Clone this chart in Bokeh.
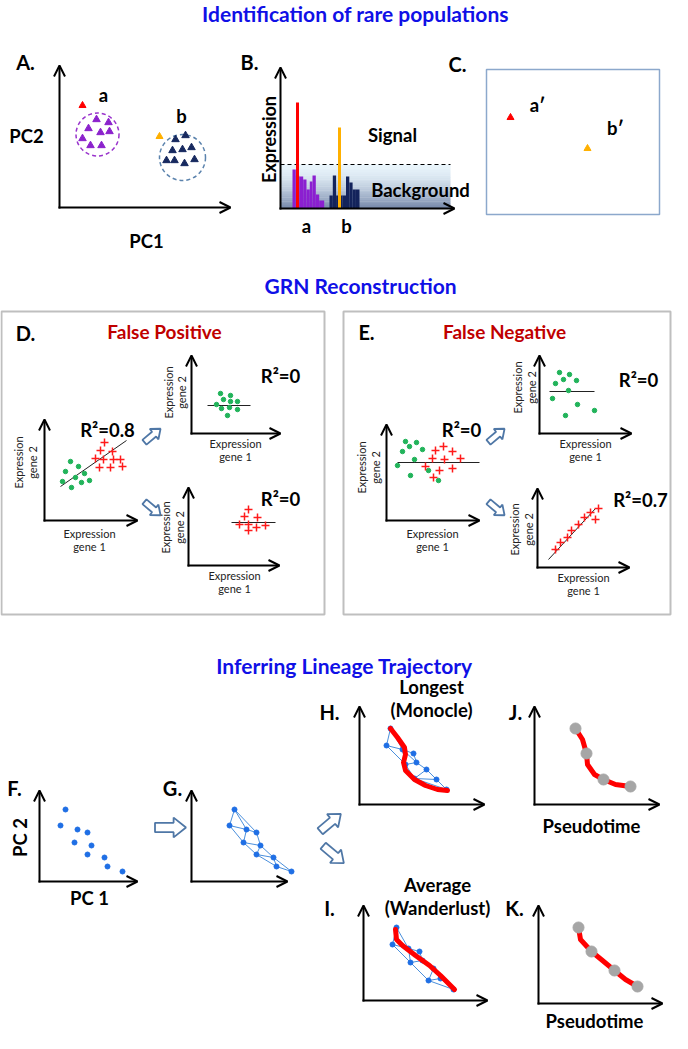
import math
from bokeh.plotting import figure
from bokeh.models import Range1d, Arrow, OpenHead
from bokeh.core.properties import value
from bokeh.embed import file_html
from bokeh.resources import INLINE

FONT = "Lato"

# ---------------- data (image pixel coordinates) ----------------
# Panel A: populations in PC space
a_x = [104, 116, 96, 108, 117, 90, 98, 109]
a_y = [127, 130, 136, 140, 139, 146, 153, 153]
b_x = [183, 193, 180, 190, 199, 174, 182, 192, 202]
b_y = [147, 143, 158, 157, 155, 168, 168, 171, 167]
rare_x = [90, 167]
rare_y = [113, 144]
rare_colors = ["#ff0000", "#ffb000"]
clu_x = [105, 190]
clu_y = [142, 165]
clu_d = [43, 46]
clu_colors = ["#9933cc", "#5b83ad"]

# Panel B: expression histogram
b_base = 216
purple_edges = [300, 303.3, 306.7, 310.7, 314, 317.3, 320, 323.3, 326.7, 331.7]
purple_h = [39, 33, 32, 29, 19, 27, 33, 14, 8]
navy_edges = [337, 340.3, 343.6, 346.9, 350.2, 353.5, 356.8, 360.1, 363.4, 367]
navy_h = [13, 33, 13, 13, 13, 32, 26, 19, 19]
spike_x = [305, 347]
spike_top = [110, 135]
spike_colors = ["#ff0000", "#ffb000"]
bg_left, bg_right, bg_top = 288, 458, 172

# Panel C
c_x = [518, 595]
c_y = [125, 156]

# Panel D / E scatter
dl_gx = [78, 86, 73, 92, 83, 70, 89, 79, 97]
dl_gy = [469, 474, 479, 481, 485, 489, 490, 495, 488]
dl_rx = [112, 108, 120, 103, 111, 121, 128, 107, 118, 130]
dl_ry = [450, 458, 459, 466, 467, 467, 467, 475, 475, 474]
du_gx = [228, 238, 231, 238, 245, 224, 229, 237, 245, 235]
du_gy = [401, 403, 407, 409, 409, 412, 416, 415, 417, 423]
dd_rx = [256, 252, 265, 247, 256, 273, 264, 256]
dd_ry = [517, 524, 525, 532, 532, 533, 535, 538]
el_gx = [413, 424, 417, 410, 430, 422, 405, 436, 418, 446]
el_gy = [449, 450, 454, 459, 457, 467, 473, 478, 483, 488]
el_rx = [451, 443, 460, 440, 452, 468, 433, 447, 460, 441]
el_ry = [454, 458, 459, 466, 467, 466, 474, 478, 476, 485]
eu_gx = [567, 577, 563, 571, 584, 576, 560, 585, 573, 602]
eu_gy = [380, 382, 391, 387, 388, 398, 406, 412, 423, 418]
ed_rx = [606, 598, 592, 603, 586, 579, 575, 568, 563]
ed_ry = [516, 520, 525, 527, 532, 538, 545, 550, 557]
fit_x0 = [68, 215, 239, 405, 557, 556]
fit_y0 = [494, 413, 530, 470, 399, 567]
fit_x1 = [134, 258, 283, 487, 602, 603]
fit_y1 = [448, 413, 530, 470, 399, 516]

# Panels F/G: cells
f_x = [73, 68, 85, 95, 82, 99, 95, 112, 115, 130]
f_y = [817, 833, 837, 840, 850, 853, 862, 865, 874, 879]
g_shift = 169
net_edges = [(0, 1), (0, 2), (1, 2), (0, 3), (2, 3), (1, 4), (2, 4), (3, 5), (4, 5),
             (4, 6), (5, 6), (5, 7), (6, 7), (6, 8), (7, 8), (7, 9), (8, 9)]
# Panel H network + trajectory
h_x = [398, 394, 410, 421, 424, 413, 434, 422, 444, 454]
h_y = [736, 753, 757, 761, 770, 772, 777, 786, 787, 797]
h_edges = [(0, 1), (0, 2), (1, 2), (2, 3), (2, 4), (3, 4), (1, 5), (2, 5), (4, 5),
           (4, 6), (5, 7), (6, 7), (6, 8), (7, 8), (8, 9), (7, 9)]
h_cx = [398, 405, 412, 413, 411, 413, 422, 433, 445, 455]
h_cy = [736, 745, 755, 762, 770, 778, 787, 793, 797, 798]
# Panel I network + trajectory
i_x = [404, 400, 416, 427, 430, 418, 441, 448, 436, 461]
i_y = [935, 952, 956, 959, 968, 970, 976, 986, 988, 997]
i_edges = [(0, 1), (0, 2), (1, 2), (2, 3), (2, 4), (3, 4), (1, 5), (2, 5), (4, 5),
           (4, 6), (5, 8), (6, 7), (6, 8), (7, 8), (8, 9), (7, 9)]
i_cx = [403, 404, 410, 423, 437, 448, 462]
i_cy = [937, 947, 953, 963, 973, 983, 997]
# Panels J/K pseudotime
j_cx = [583, 590, 594, 595, 602, 611, 623, 638]
j_cy = [736, 747, 761, 772, 782, 787, 792, 794]
j_px = [583, 594, 611, 638]
j_py = [736, 761, 787, 794]
k_cx = [586, 588, 599, 610, 622, 633, 645]
k_cy = [935, 947, 959, 968, 978, 987, 994]
k_px = [586, 599, 622, 645]
k_py = [935, 959, 978, 994]

# axes: origin x, origin y, x length, y length
ax_ox = [67, 288, 52, 199, 196, 394, 547, 545, 47, 199, 367, 542, 371, 546]
ax_oy = [215, 216, 528, 441, 573, 528, 441, 575, 889, 889, 812, 812, 1008, 1011]
ax_w = [171, 174, 93, 89, 91, 93, 92, 92, 98, 96, 125, 125, 124, 124]
ax_h = [142, 141, 101, 78, 78, 96, 78, 79, 91, 91, 98, 98, 95, 98]

# hollow arrows: centre, angle (deg, image coords), length
ha_x = [160, 160, 504, 504, 178, 338, 341]
ha_y = [443, 516, 443, 516, 835, 830, 862]
ha_ang = [-40, 40, -40, 40, 0, -40, 40]
ha_len = [21, 21, 21, 21, 31, 27, 27]

# texts
titles = ["Identification of rare populations", "GRN Reconstruction", "Inferring Lineage Trajectory"]
title_x = [363, 368, 352]
title_y = [21, 293, 673]

labels = ["A.", "B.", "C.", "D.", "E.", "F.", "G.", "H.", "J.", "I.", "K."]
label_x = [33, 257, 465, 33, 374, 22, 180, 337, 523, 337, 522]
label_y = [69, 69, 71, 340, 339, 795, 795, 719, 719, 915, 915]

bold_txt = ["PC2", "PC1", "a", "b", "a", "b", "Signal", "Background", "a\u2032", "b\u2032",
            "R\u00b2=0.8", "R\u00b2=0", "R\u00b2=0", "R\u00b2=0", "R\u00b2=0", "R\u00b2=0.7",
            "PC 1", "Longest", "(Monocle)", "Average", "(Wanderlust)", "Pseudotime", "Pseudotime"]
bold_x = [34, 154, 111, 189, 314, 354, 400, 428, 545, 623,
          115, 288, 288, 469, 646, 648,
          97, 439, 439, 445, 445, 599, 602]
bold_y = [143, 248, 102, 123, 233, 233, 142, 197, 112, 135,
          437, 383, 506, 437, 387, 507,
          905, 694, 717, 892, 915, 833, 1028]

small_txt = ["Expression", "gene 1"] * 6
small_x = [97, 97, 243, 243, 242, 242, 440, 440, 593, 593, 591, 591]
small_y = [541, 554, 451, 464, 583, 596, 541, 554, 451, 464, 585, 598]

rot_small_txt = ["Expression", "gene 2"] * 6
rot_small_x = [26, 40, 176, 189, 173, 187, 369, 383, 525, 539, 522, 536]
rot_small_y = [470, 470, 400, 400, 535, 535, 475, 475, 395, 395, 537, 537]

# ---------------- figure ----------------
W, H = 672, 1033
p = figure(width=W, height=H, x_range=Range1d(8, 8 + W), y_range=Range1d(8 + H, 8),
           output_backend="svg", toolbar_location=None, min_border=0)
p.axis.visible = False
p.grid.visible = False
p.outline_line_color = None
p.background_fill_color = "white"

# Panel B gradient background
n_strip = 24
top_c = (232, 244, 251)
bot_c = (120, 138, 172)
strip_top, strip_bot, strip_col = [], [], []
for k in range(n_strip):
    t = k / (n_strip - 1)
    h0 = bg_top + (b_base - bg_top) * k / n_strip
    h1 = bg_top + (b_base - bg_top) * (k + 1) / n_strip
    c = tuple(int(top_c[j] + (bot_c[j] - top_c[j]) * t ** 1.6) for j in range(3))
    strip_top.append(h0)
    strip_bot.append(h1 + 0.3)
    strip_col.append("#%02x%02x%02x" % c)
p.quad(left=[bg_left] * n_strip, right=[bg_right] * n_strip, top=strip_top, bottom=strip_bot,
       fill_color=strip_col, line_color=None)
p.segment(x0=[bg_left], y0=[bg_top], x1=[bg_right], y1=[bg_top], line_color="black",
          line_width=1, line_dash="4 3")
p.quad(left=purple_edges[:-1], right=purple_edges[1:], top=[b_base - h for h in purple_h],
       bottom=[b_base] * len(purple_h), fill_color="#8b1fd0", line_color=None)
p.quad(left=navy_edges[:-1], right=navy_edges[1:], top=[b_base - h for h in navy_h],
       bottom=[b_base] * len(navy_h), fill_color="#13235b", line_color=None)
p.quad(left=[x - 1.5 for x in spike_x], right=[x + 1.5 for x in spike_x], top=spike_top,
       bottom=[b_base] * 2, fill_color=spike_colors, line_color=None)

# Panel A
p.ellipse(x=clu_x, y=clu_y, width=clu_d, height=clu_d, fill_color=None, line_color=clu_colors,
          line_width=1.5, line_dash="4 3")
p.scatter(a_x, a_y, marker="triangle", size=7.5, color="#8b22cc")
p.scatter(b_x, b_y, marker="triangle", size=7.5, color="#17295f")
p.scatter(rare_x, rare_y, marker="triangle", size=7, color=rare_colors)

# Panel C
p.quad(left=[494], right=[667], top=[77], bottom=[222], fill_color=None, line_color="#8ca8cc",
       line_width=1.5)
p.scatter(c_x, c_y, marker="triangle", size=7, color=rare_colors)

# Panels D, E boxes
p.quad(left=[9, 351], right=[332, 678], top=[319, 319], bottom=[622, 622], fill_color=None,
       line_color="#bfbfbf", line_width=2)

# axes arrows
for ox, oy, w, h in zip(ax_ox, ax_oy, ax_w, ax_h):
    p.add_layout(Arrow(end=OpenHead(size=11, line_width=2), x_start=ox, y_start=oy + 1,
                       x_end=ox, y_end=oy - h, line_width=2))
    p.add_layout(Arrow(end=OpenHead(size=11, line_width=2), x_start=ox - 1, y_start=oy,
                       x_end=ox + w, y_end=oy, line_width=2))

# fit lines
p.segment(x0=fit_x0, y0=fit_y0, x1=fit_x1, y1=fit_y1, line_color="#222222", line_width=1)
for gx, gy in [(dl_gx, dl_gy), (du_gx, du_gy), (el_gx, el_gy), (eu_gx, eu_gy)]:
    p.scatter(gx, gy, marker="circle", size=4.5, color="#21b35a")
for rx, ry in [(dl_rx, dl_ry), (dd_rx, dd_ry), (el_rx, el_ry), (ed_rx, ed_ry)]:
    p.scatter(rx, ry, marker="cross", size=8, line_color="#ff1a1a", line_width=1.5)

# hollow block arrows
hx, hy = [], []
for cx, cy, ang, L in zip(ha_x, ha_y, ha_ang, ha_len):
    w1, w2, hl = L * 0.15, L * 0.32, L * 0.4
    pts = [(-L / 2, -w1), (L / 2 - hl, -w1), (L / 2 - hl, -w2), (L / 2, 0),
           (L / 2 - hl, w2), (L / 2 - hl, w1), (-L / 2, w1)]
    a = math.radians(ang)
    hx.append([cx + px * math.cos(a) - py * math.sin(a) for px, py in pts])
    hy.append([cy + px * math.sin(a) + py * math.cos(a) for px, py in pts])
p.patches(hx, hy, fill_color="white", line_color="#4f77a6", line_width=1.8)

# F / G
node_col = "#1f6fe5"
edge_col = "#4a8fdc"
p.scatter(f_x, f_y, marker="circle", size=5, color=node_col)
g_x = [x + g_shift for x in f_x]
p.segment(x0=[g_x[a] for a, b in net_edges], y0=[f_y[a] for a, b in net_edges],
          x1=[g_x[b] for a, b in net_edges], y1=[f_y[b] for a, b in net_edges],
          line_color=edge_col, line_width=1)
p.scatter(g_x, f_y, marker="circle", size=5, color=node_col)

# H / I networks
for nx, ny, ed in [(h_x, h_y, h_edges), (i_x, i_y, i_edges)]:
    p.segment(x0=[nx[a] for a, b in ed], y0=[ny[a] for a, b in ed],
              x1=[nx[b] for a, b in ed], y1=[ny[b] for a, b in ed],
              line_color=edge_col, line_width=1)
    p.scatter(nx, ny, marker="circle", size=5, color=node_col)

# trajectories
for cx, cy in [(h_cx, h_cy), (i_cx, i_cy), (j_cx, j_cy), (k_cx, k_cy)]:
    p.line(cx, cy, line_color="#ff0000", line_width=5, line_cap="round", line_join="round")
for px_, py_ in [(j_px, j_py), (k_px, k_py)]:
    p.scatter(px_, py_, marker="circle", size=11, color="#a6a6a6")

# texts
p.text(title_x, title_y, text=titles, text_font=value(FONT), text_font_style="bold",
       text_font_size="21px", text_color="#1010e6", text_align="center", text_baseline="middle")
p.text([172, 512], [339, 339], text=["False Positive", "False Negative"], text_font=value(FONT),
       text_font_style="bold", text_font_size="19px", text_color="#c00000", text_align="center",
       text_baseline="middle")
p.text(label_x, label_y, text=labels, text_font=value(FONT), text_font_style="bold",
       text_font_size="20px", text_color="black", text_align="center", text_baseline="middle")
p.text(bold_x, bold_y, text=bold_txt, text_font=value(FONT), text_font_style="bold",
       text_font_size="18.5px", text_color="black", text_align="center", text_baseline="middle")
p.text(small_x, small_y, text=small_txt, text_font=value(FONT), text_font_size="11px",
       text_color="#222222", text_align="center", text_baseline="middle")
p.text(rot_small_x, rot_small_y, text=rot_small_txt, text_font=value(FONT), text_font_size="11px",
       text_color="#222222", text_align="center", text_baseline="middle", angle=math.pi / 2)
p.text([276], [147], text=["Expression"], text_font=value(FONT), text_font_style="bold",
       text_font_size="18px", text_color="black", text_align="center", text_baseline="middle",
       angle=math.pi / 2)
p.text([27], [845], text=["PC 2"], text_font=value(FONT), text_font_style="bold",
       text_font_size="18.5px", text_color="black", text_align="center", text_baseline="middle",
       angle=math.pi / 2)

open("out.html", "w").write(file_html(p, INLINE))
